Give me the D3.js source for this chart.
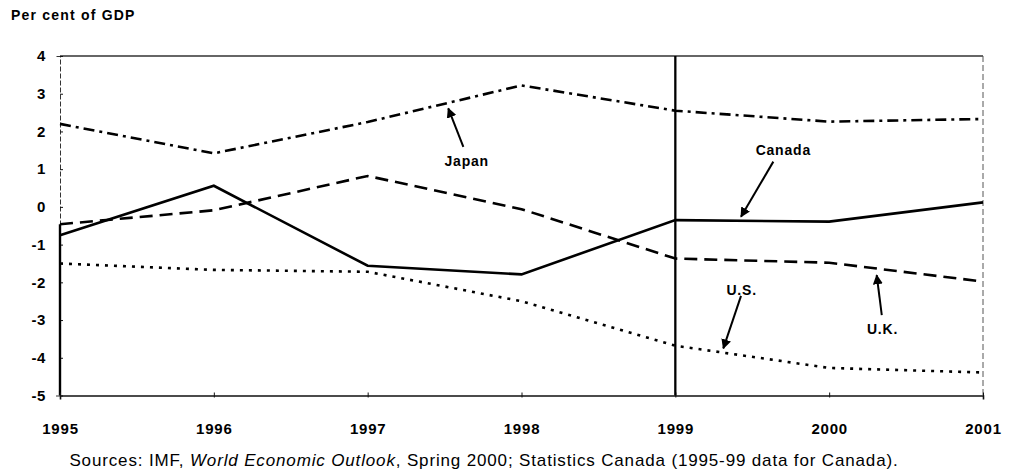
<!DOCTYPE html>
<html>
<head>
<meta charset="utf-8">
<script src="https://cdn.jsdelivr.net/npm/d3@7"></script>
<style>
  body { margin: 0; background: #fff; }
  svg { display: block; font-family: "Liberation Sans", Arial, sans-serif; }
</style>
</head>
<body>
<div id="chart"></div>
<script>
const years = [1995, 1996, 1997, 1998, 1999, 2000, 2001];
const japan = [2.2, 1.42, 2.25, 3.22, 2.55, 2.26, 2.33];
const canada = [-0.75, 0.56, -1.56, -1.79, -0.35, -0.39, 0.12];
const uk = [-0.46, -0.09, 0.82, -0.06, -1.37, -1.48, -1.98];
const us = [-1.5, -1.67, -1.72, -2.5, -3.68, -4.27, -4.39];
const yTicks = [4, 3, 2, 1, 0, -1, -2, -3, -4, -5];

// label position and arrow tail/tip, in data units
const notes = [
  { text: "Japan", tx: 1997.644, ty: 1.09, ax: 1997.622, ay: 1.59, bx: 1997.524, by: 2.61 },
  { text: "Canada", tx: 1999.702, ty: 1.37, ax: 1999.637, ay: 1.2, bx: 1999.427, by: -0.26 },
  { text: "U.S.", tx: 1999.431, ty: -2.34, ax: 1999.427, ay: -2.36, bx: 1999.312, by: -3.75 },
  { text: "U.K.", tx: 2000.347, ty: -3.37, ax: 2000.342, ay: -2.87, bx: 2000.309, by: -1.81 }
];

const width = 1017, height = 473;
const margin = { top: 56, right: 34, bottom: 77.5, left: 60 };

const svg = d3.select("#chart").append("svg")
  .attr("width", width)
  .attr("height", height);

const x = d3.scaleLinear()
  .domain([1995, 2001])
  .range([margin.left, width - margin.right]);

const y = d3.scaleLinear()
  .domain([-5, 4])
  .range([height - margin.bottom, margin.top]);

svg.append("text")
  .attr("x", 11).attr("y", 20)
  .attr("font-size", 14).attr("font-weight", "bold")
  .attr("letter-spacing", 1.2)
  .text("Per cent of GDP");

// frame
svg.append("line")
  .attr("x1", x(1995)).attr("x2", x(2001))
  .attr("y1", y(4)).attr("y2", y(4))
  .attr("stroke", "#333").attr("stroke-width", 1.3);
svg.append("line")
  .attr("x1", x(2001)).attr("x2", x(2001))
  .attr("y1", y(4)).attr("y2", y(-5))
  .attr("stroke", "#555").attr("stroke-width", 1)
  .attr("stroke-dasharray", "6,3");

const yAxis = d3.axisLeft(y)
  .tickValues(yTicks)
  .tickSize(4)
  .tickFormat(d => String(d));
const gy = svg.append("g")
  .attr("transform", `translate(${x(1995)},0)`)
  .call(yAxis);
gy.select(".domain").attr("stroke", "#333").attr("stroke-width", 1)
  .attr("stroke-dasharray", "5,2");
gy.selectAll(".tick line").attr("stroke", "#111").attr("x2", 3);
gy.selectAll(".tick text")
  .attr("x", -14)
  .attr("font-size", 15).attr("font-weight", "bold")
  .attr("letter-spacing", 0.6)
  .attr("font-family", "Liberation Sans, Arial, sans-serif")
  .attr("fill", "#000");
// heavier lower part of the left edge, as in the print
svg.append("line")
  .attr("x1", x(1995)).attr("x2", x(1995))
  .attr("y1", y(uk[0])).attr("y2", y(-5))
  .attr("stroke", "#000").attr("stroke-width", 2.4);

const xAxis = d3.axisBottom(x)
  .tickValues(years)
  .tickSize(4)
  .tickFormat(d3.format("d"));
const gx = svg.append("g")
  .attr("transform", `translate(0,${y(-5)})`)
  .call(xAxis);
gx.select(".domain").attr("stroke", "#111").attr("stroke-width", 1.6);
gx.selectAll(".tick line").attr("stroke", "#111").attr("y1", -3).attr("y2", 2);
gx.selectAll(".tick text")
  .attr("y", 28)
  .attr("font-size", 15).attr("font-weight", "bold")
  .attr("letter-spacing", 0.8)
  .attr("font-family", "Liberation Sans, Arial, sans-serif")
  .attr("fill", "#000");

// 1999 divider
svg.append("line")
  .attr("x1", x(1999)).attr("x2", x(1999))
  .attr("y1", y(4)).attr("y2", y(-5))
  .attr("stroke", "#000").attr("stroke-width", 2.3);

const line = d3.line()
  .x((d, i) => x(years[i]))
  .y(d => y(d));

const series = [
  { values: japan, dash: "11,5,3,5" },
  { values: canada, dash: null },
  { values: uk, dash: "13,7" },
  { values: us, dash: "3,6" }
];

svg.selectAll("path.series")
  .data(series)
  .join("path")
  .attr("class", "series")
  .attr("fill", "none")
  .attr("stroke", "#000")
  .attr("stroke-width", 2.6)
  .attr("stroke-dasharray", d => d.dash)
  .attr("d", d => line(d.values));

svg.append("defs").append("marker")
  .attr("id", "arr")
  .attr("viewBox", "0 0 10 10")
  .attr("refX", 9).attr("refY", 5)
  .attr("markerWidth", 5).attr("markerHeight", 5)
  .attr("orient", "auto")
  .append("path")
  .attr("d", "M0,0L10,5L0,10z")
  .attr("fill", "#000");

const gn = svg.append("g");
notes.forEach(n => {
  gn.append("line")
    .attr("x1", x(n.ax)).attr("y1", y(n.ay))
    .attr("x2", x(n.bx)).attr("y2", y(n.by))
    .attr("stroke", "#000").attr("stroke-width", 2)
    .attr("marker-end", "url(#arr)");
  gn.append("text")
    .attr("x", x(n.tx)).attr("y", y(n.ty))
    .attr("text-anchor", "middle")
    .attr("font-size", 14).attr("font-weight", "bold")
    .attr("letter-spacing", 0.8)
    .text(n.text);
});

const src = svg.append("text")
  .attr("x", 484).attr("y", 466)
  .attr("text-anchor", "middle")
  .attr("font-size", 17)
  .attr("letter-spacing", 0.85);
src.append("tspan").text("Sources: IMF, ");
src.append("tspan").attr("font-style", "italic").text("World Economic Outlook");
src.append("tspan").text(", Spring 2000; Statistics Canada (1995-99 data for Canada).");
</script>
</body>
</html>
